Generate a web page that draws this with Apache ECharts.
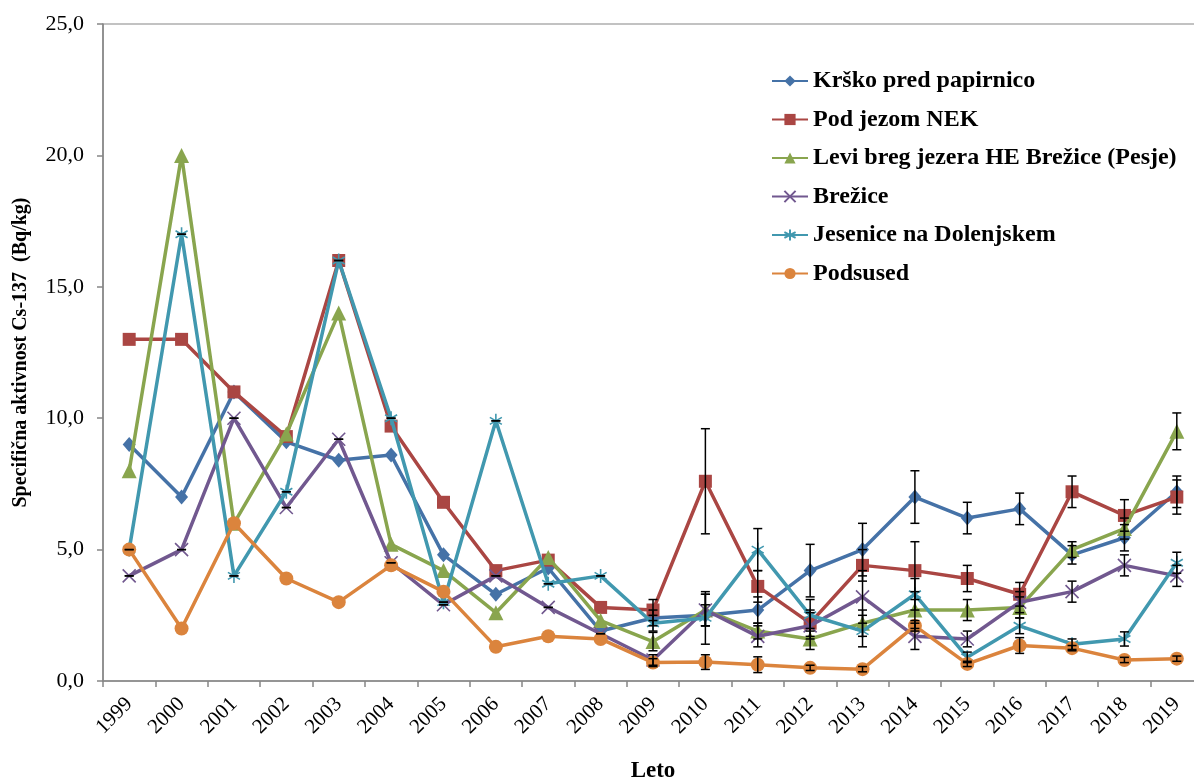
<!DOCTYPE html>
<html>
<head>
<meta charset="utf-8">
<script src="https://cdn.jsdelivr.net/npm/echarts@6/dist/echarts.min.js"></script>
<style>
html,body{margin:0;padding:0;overflow:hidden;background:#fff;}
#chart{width:1210px;height:780px;}
</style>
</head>
<body>
<div id="chart"></div>
<script>
const years = ['1999','2000','2001','2002','2003','2004','2005','2006','2007','2008','2009','2010','2011','2012','2013','2014','2015','2016','2017','2018','2019'];
const yTicks = [0, 5, 10, 15, 20, 25];

const krsko    = [9.0, 7.0, 11.0, 9.1, 8.4, 8.6, 4.8, 3.3, 4.3, 1.9, 2.4, 2.5, 2.7, 4.2, 5.0, 7.0, 6.2, 6.55, 4.8, 5.45, 7.2];
const podJezom = [13.0, 13.0, 11.0, 9.3, 16.0, 9.7, 6.8, 4.2, 4.6, 2.8, 2.7, 7.6, 3.6, 2.2, 4.4, 4.2, 3.9, 3.3, 7.2, 6.3, 7.0];
const leviBreg = [8.0, 20.0, 6.0, 9.4, 14.0, 5.2, 4.2, 2.6, 4.7, 2.3, 1.5, 2.7, 1.9, 1.6, 2.2, 2.7, 2.7, 2.8, 5.0, 5.8, 9.5];
const brezice  = [4.0, 5.0, 10.0, 6.6, 9.2, 4.5, 2.9, 4.0, 2.8, 1.8, 0.8, 2.7, 1.7, 2.1, 3.2, 1.7, 1.6, 3.0, 3.4, 4.4, 4.0];
const jesenice = [5.0, 17.0, 4.0, 7.2, 16.0, 10.0, 3.0, 9.9, 3.7, 4.0, 2.2, 2.4, 5.0, 2.5, 1.9, 3.3, 0.9, 2.1, 1.4, 1.6, 4.5];
const podsused = [5.0, 2.0, 6.0, 3.9, 3.0, 4.4, 3.4, 1.3, 1.7, 1.6, 0.7, 0.72, 0.62, 0.5, 0.45, 2.1, 0.65, 1.35, 1.25, 0.8, 0.85];

const errKrsko    = [null,null,null,null,null,null,null,null,null,null, 0.3, 0.4, 0.5, 1.0, 1.0, 1.0, 0.6, 0.6, 0.35, 0.5, 0.6];
const errPodJezom = [null,null,null,null,null,null,null,null,null,null, 0.4, 2.0, 0.6, 0.5, 0.6, 1.1, 0.5, 0.45, 0.6, 0.6, 0.65];
const errLeviBreg = [null,null,null,null,null,null,null,null,null,null, 0.35, 0.6, 0.3, 0.4, 0.5, 0.7, 0.4, 0.4, 0.3, 0.4, 0.7];
const errBrezice  = [0,0,0,0,0,0,0,0,0,0, 0.2, 0.6, 0.4, 0.5, 1.0, 0.5, 0.3, 0.4, 0.4, 0.4, 0.4];
const errJesenice = [0,0,0,0,0,0,0,0,0,0, 0.3, 1.0, 0.8, 0.6, 0.6, 0.6, 0.2, 0.3, 0.2, 0.27, 0.4];
const errPodsused = [null,null,null,null,null,null,null,null,null,null, 0.15, 0.28, 0.3, 0.1, 0.1, 0.2, 0.1, 0.3, 0.1, 0.1, 0.1];

const names = ['Krško pred papirnico','Pod jezom NEK','Levi breg jezera HE Brežice (Pesje)','Brežice','Jesenice na Dolenjskem','Podsused'];
const colors = ['#4572A7','#AA4643','#89A54E','#71588F','#4198AF','#DB843D'];
const values = [krsko, podJezom, leviBreg, brezice, jesenice, podsused];
const errors = [errKrsko, errPodJezom, errLeviBreg, errBrezice, errJesenice, errPodsused];
const symbols = ['diamond','rect','triangle',
  'path://M0,0L10,10M10,0L0,10',
  'path://M5,0L5,10M0.7,2.5L9.3,7.5M9.3,2.5L0.7,7.5',
  'circle'];
const symbolSizes = [[13,15], 13, 15, 13, 14, 14];

const serif = '"Liberation Serif", "Times New Roman", serif';

const lineSeries = names.map((n, k) => ({
  name: n,
  type: 'line',
  data: values[k],
  symbol: symbols[k],
  symbolSize: symbolSizes[k],
  symbolKeepAspect: true,
  showAllSymbol: true,
  lineStyle: { color: colors[k], width: 3.5 },
  itemStyle: (k === 3 || k === 4)
    ? { color: colors[k], borderColor: colors[k], borderWidth: 1.6 }
    : { color: colors[k], borderWidth: 0 },
  emphasis: { disabled: true },
  z: 2 + k * 0.01,
  animation: false
}));

const errSeries = names.map((n, k) => ({
  name: n + ' err',
  type: 'custom',
  data: values[k].map((v, i) => errors[k][i] == null ? null : [i, v - errors[k][i], v + errors[k][i]]).filter(d => d),
  encode: { x: 0, y: [1, 2] },
  renderItem: function (params, api) {
    const top = api.coord([api.value(0), api.value(2)]);
    const bot = api.coord([api.value(0), api.value(1)]);
    const w = 4.5;
    const style = { stroke: '#000', lineWidth: 1.5, fill: null };
    return {
      type: 'group',
      children: [
        { type: 'line', shape: { x1: top[0], y1: top[1], x2: bot[0], y2: bot[1] }, style: style },
        { type: 'line', shape: { x1: top[0] - w, y1: top[1], x2: top[0] + w, y2: top[1] }, style: style },
        { type: 'line', shape: { x1: bot[0] - w, y1: bot[1], x2: bot[0] + w, y2: bot[1] }, style: style }
      ]
    };
  },
  z: 5,
  silent: true,
  animation: false
}));

const chart = echarts.init(document.getElementById('chart'), null, { renderer: 'canvas' });
chart.setOption({
  animation: false,
  backgroundColor: '#fff',
  grid: {
    left: 103, top: 24, right: 7, bottom: 99,
    containLabel: false,
    outerBoundsMode: 'none',
    show: true, borderColor: '#868686', borderWidth: 1.2, backgroundColor: 'transparent'
  },
  legend: {
    data: names,
    orient: 'vertical',
    left: 766,
    top: 64,
    itemWidth: 36,
    itemHeight: 14,
    itemGap: 14.5,
    textStyle: { fontFamily: serif, fontSize: 24, fontWeight: 'bold', color: '#000' }
  },
  xAxis: {
    type: 'category',
    data: years,
    boundaryGap: true,
    name: 'Leto',
    nameLocation: 'middle',
    nameGap: 79,
    nameTextStyle: { fontFamily: serif, fontSize: 23, fontWeight: 'bold', color: '#000' },
    axisLine: { lineStyle: { color: '#868686', width: 1.5 } },
    axisTick: { show: true, length: 6, interval: 0, lineStyle: { color: '#868686', width: 1.5 } },
    axisLabel: { interval: 0, rotate: 45, fontFamily: serif, fontSize: 21, color: '#000', margin: 20 }
  },
  yAxis: {
    type: 'value',
    min: yTicks[0],
    max: yTicks[yTicks.length - 1],
    interval: 5,
    name: 'Specifična aktivnost Cs-137  (Bq/kg)',
    nameLocation: 'middle',
    nameGap: 72,
    nameTextStyle: { fontFamily: serif, fontSize: 20, fontWeight: 'bold', color: '#000' },
    axisLine: { show: true, lineStyle: { color: '#868686', width: 1.5 } },
    axisTick: { show: true, length: 6, lineStyle: { color: '#868686', width: 1.5 } },
    splitLine: { show: false },
    axisLabel: {
      fontFamily: serif, fontSize: 22, color: '#000', margin: 19,
      formatter: v => v.toFixed(1).replace('.', ',')
    }
  },
  series: lineSeries.concat(errSeries)
});
</script>
</body>
</html>
